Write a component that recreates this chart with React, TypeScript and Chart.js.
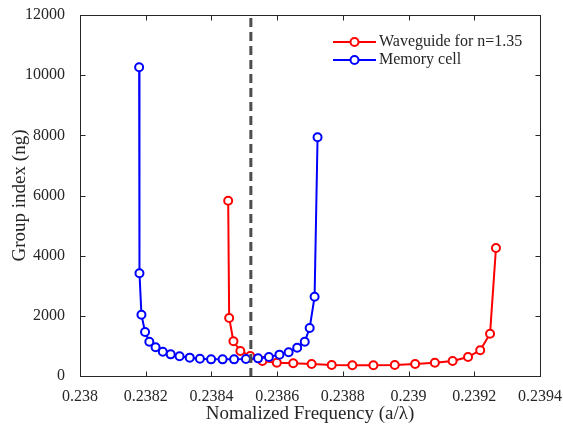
import React, { useEffect, useRef } from "react";
import { Chart, registerables } from "chart.js";

Chart.register(...registerables);

const redLabel = "Waveguide for n=1.35";
const redX = [0.238451, 0.238454, 0.238467, 0.238488, 0.238518, 0.238555, 0.238599, 0.238649, 0.238705, 0.238766, 0.238829, 0.238893, 0.238958, 0.23902, 0.23908, 0.239134, 0.239181, 0.239218, 0.239248, 0.239266];
const redY = [5828, 1928, 1154, 831, 665, 499, 443, 421, 399, 366, 355, 355, 366, 399, 443, 499, 632, 854, 1407, 4255];

const blueLabel = "Memory cell";
const blueX = [0.23818, 0.238181, 0.238187, 0.238198, 0.238211, 0.23823, 0.238252, 0.238276, 0.238303, 0.238334, 0.238365, 0.238399, 0.238434, 0.238469, 0.238505, 0.238542, 0.238575, 0.238607, 0.238635, 0.238661, 0.238684, 0.238699, 0.238714, 0.238723];
const blueY = [10262, 3414, 2038, 1463, 1141, 953, 809, 720, 654, 610, 576, 553, 553, 553, 565, 587, 632, 710, 787, 941, 1141, 1596, 2636, 7935];

const dashX = 0.23852;

const xTickVals = [0.238, 0.2382, 0.2384, 0.2386, 0.2388, 0.239, 0.2392, 0.2394];
const xTickLabels = ["0.238", "0.2382", "0.2384", "0.2386", "0.2388", "0.239", "0.2392", "0.2394"];
const yTickVals = [0, 2000, 4000, 6000, 8000, 10000, 12000];
const yTickLabels = ["0", "2000", "4000", "6000", "8000", "10000", "12000"];

const FONT = "'Liberation Serif', 'Times New Roman', serif";
const TEXT = "#262626";

export default function App() {
  const ref = useRef<HTMLCanvasElement>(null);

  useEffect(() => {
    const canvas = ref.current;
    if (!canvas) return;

    const framePlugin = {
      id: "frame",
      beforeDraw(chart: any) {
        const { ctx, width, height } = chart;
        ctx.save();
        ctx.fillStyle = "#ffffff";
        ctx.fillRect(0, 0, width, height);
        ctx.restore();
      },
      afterDatasetsDraw(chart: any) {
        const { ctx, scales } = chart;
        const xs = scales.x;
        const ys = scales.y;
        const left = xs.getPixelForValue(xs.min);
        const right = xs.getPixelForValue(xs.max);
        const top = ys.getPixelForValue(ys.max);
        const bottom = ys.getPixelForValue(ys.min);
        ctx.save();
        // dashed vertical line
        const dx = xs.getPixelForValue(dashX);
        ctx.strokeStyle = "#4d4d4d";
        ctx.lineWidth = 3;
        ctx.setLineDash([9, 5]);
        ctx.beginPath();
        ctx.moveTo(dx, top + 3);
        ctx.lineTo(dx, bottom);
        ctx.stroke();
        ctx.setLineDash([]);
        // box
        ctx.strokeStyle = TEXT;
        ctx.lineWidth = 1;
        const L = Math.round(left) + 0.5;
        const R = Math.round(right) + 0.5;
        const T = Math.round(top) + 0.5;
        const B = Math.round(bottom) + 0.5;
        ctx.strokeRect(L, T, R - L, B - T);
        // ticks
        const tl = 5;
        ctx.beginPath();
        xTickVals.forEach((v) => {
          const px = Math.round(xs.getPixelForValue(v)) + 0.5;
          ctx.moveTo(px, B);
          ctx.lineTo(px, B - tl);
          ctx.moveTo(px, T);
          ctx.lineTo(px, T + tl);
        });
        yTickVals.forEach((v) => {
          const py = Math.round(ys.getPixelForValue(v)) + 0.5;
          ctx.moveTo(L, py);
          ctx.lineTo(L + tl, py);
          ctx.moveTo(R, py);
          ctx.lineTo(R - tl, py);
        });
        ctx.stroke();
        // legend
        const lx0 = right - 207;
        const lx1 = right - 164;
        const ly0 = top + 27;
        chart.data.datasets.forEach((ds: any, i: number) => {
          const y = ly0 + i * 18;
          ctx.strokeStyle = ds.borderColor;
          ctx.lineWidth = 2;
          ctx.beginPath();
          ctx.moveTo(lx0, y);
          ctx.lineTo(lx1, y);
          ctx.stroke();
          ctx.beginPath();
          ctx.arc((lx0 + lx1) / 2, y, 4, 0, Math.PI * 2);
          ctx.fillStyle = "#ffffff";
          ctx.fill();
          ctx.stroke();
          ctx.fillStyle = TEXT;
          ctx.font = `16px ${FONT}`;
          ctx.textBaseline = "middle";
          ctx.textAlign = "left";
          ctx.fillText(ds.label, lx1 + 3, y);
        });
        ctx.restore();
      },
    };

    const chart = new Chart(canvas, {
      type: "scatter",
      data: {
        datasets: [
          {
            label: redLabel,
            data: redX.map((x, i) => ({ x, y: redY[i] })),
            showLine: true,
            borderColor: "#ff0000",
            backgroundColor: "#ffffff",
            borderWidth: 2,
            pointRadius: 4,
            pointBorderWidth: 2,
            pointBackgroundColor: "#ffffff",
            pointBorderColor: "#ff0000",
            order: 2,
          },
          {
            label: blueLabel,
            data: blueX.map((x, i) => ({ x, y: blueY[i] })),
            showLine: true,
            borderColor: "#0000ff",
            backgroundColor: "#ffffff",
            borderWidth: 2,
            pointRadius: 4,
            pointBorderWidth: 2,
            pointBackgroundColor: "#ffffff",
            pointBorderColor: "#0000ff",
            order: 1,
          },
        ],
      },
      options: {
        responsive: false,
        animation: false,
        layout: { padding: { top: 15, right: 23, left: 0, bottom: 0 } },
        plugins: {
          legend: { display: false },
          tooltip: { enabled: false },
        },
        scales: {
          x: {
            type: "linear",
            min: 0.238,
            max: 0.2394,
            grid: { display: false },
            border: { display: false },
            afterBuildTicks: (s: any) => {
              s.ticks = xTickVals.map((v) => ({ value: v }));
            },
            afterFit: (s: any) => {
              s.height = 54;
              s.paddingLeft = 0;
              s.paddingRight = 0;
            },
            ticks: {
              color: TEXT,
              padding: 3,
              maxRotation: 0,
              autoSkip: false,
              font: { family: FONT, size: 16 },
              callback: (_v: any, i: number) => xTickLabels[i],
            },
            title: {
              display: true,
              text: "Nomalized Frequency (a/λ)",
              color: TEXT,
              font: { family: FONT, size: 19 },
              padding: { top: 0, bottom: 5 },
            },
          },
          y: {
            type: "linear",
            min: 0,
            max: 12000,
            grid: { display: false },
            border: { display: false },
            afterBuildTicks: (s: any) => {
              s.ticks = yTickVals.map((v) => ({ value: v }));
            },
            afterFit: (s: any) => {
              s.width = 80;
              s.paddingTop = 0;
              s.paddingBottom = 0;
            },
            ticks: {
              color: TEXT,
              padding: 7,
              autoSkip: false,
              font: { family: FONT, size: 16 },
              callback: (_v: any, i: number) => yTickLabels[i],
            },
            title: {
              display: true,
              text: "Group index (ng)",
              color: TEXT,
              font: { family: FONT, size: 19 },
              padding: { top: 9, bottom: 0 },
            },
          },
        },
      },
      plugins: [framePlugin],
    });

    return () => chart.destroy();
  }, []);

  return (
    <div style={{ position: "fixed", left: 0, top: 0, width: 563, height: 430, background: "#fff" }}>
      <canvas ref={ref} width={563} height={430} />
    </div>
  );
}
